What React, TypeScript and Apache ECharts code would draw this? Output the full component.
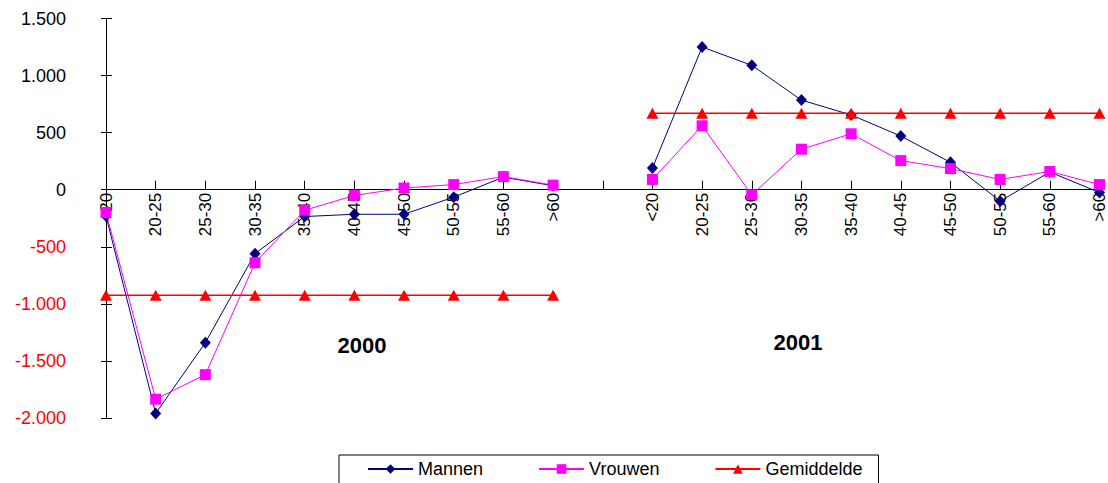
import React, { useEffect, useRef } from "react";
import * as echarts from "echarts";

const ageGroups = ["<20", "20-25", "25-30", "30-35", "35-40", "40-45", "45-50", "50-55", "55-60", ">60"];
const categories = [...ageGroups, "", ...ageGroups];

const mannen2000 = [-230, -1960, -1340, -560, -235, -215, -215, -65, 110, 35];
const vrouwen2000 = [-200, -1835, -1620, -640, -180, -50, 15, 45, 115, 40];
const gemiddelde2000 = [-925, -925, -925, -925, -925, -925, -925, -925, -925, -925];

const mannen2001 = [190, 1250, 1090, 785, 655, 470, 240, -100, 155, -25];
const vrouwen2001 = [90, 560, -45, 355, 490, 255, 185, 90, 160, 45];
const gemiddelde2001 = [670, 670, 670, 670, 670, 670, 670, 670, 670, 670];

const yearLabels = ["2000", "2001"];

const Y_MIN = -2000;
const Y_MAX = 1500;

const join = (a: number[], b: number[]) => [...a, null, ...b];

const fmt = (v: number) => {
  const s = Math.abs(v).toString().replace(/\B(?=(\d{3})+(?!\d))/g, ".");
  return v < 0 ? "-" + s : s;
};

const FONT = "Liberation Sans, Arial, sans-serif";

export default function App() {
  const ref = useRef<HTMLDivElement>(null);
  useEffect(() => {
    document.body.style.margin = "0";
    if (!ref.current) return;
    const chart = echarts.init(ref.current, null, { renderer: "svg" });
    const H = 483;
    const gridTop = 18.5;
    const gridBottom = 65;
    const plotH = H - gridTop - gridBottom;
    // move the category axis (line, ticks and labels) up to the value 0
    const zeroOffset = -plotH * (0 - Y_MIN) / (Y_MAX - Y_MIN);
    chart.setOption({
      animation: false,
      backgroundColor: "#ffffff",
      textStyle: { fontFamily: FONT },
      grid: { left: 106, right: 8, top: gridTop, bottom: gridBottom, containLabel: false },
      legend: {
        left: 339,
        top: 455,
        padding: [5, 16, 20, 28],
        borderColor: "#000",
        borderWidth: 1,
        itemWidth: 45,
        itemHeight: 12,
        itemGap: 55,
        textStyle: { fontSize: 18, color: "#000", fontFamily: FONT },
        data: ["Mannen", "Vrouwen", "Gemiddelde"],
      },
      xAxis: {
        type: "category",
        data: categories,
        boundaryGap: false,
        position: "bottom",
        offset: zeroOffset,
        axisLine: { onZero: false, lineStyle: { color: "#000", width: 1 } },
        axisTick: { inside: true, length: 9, interval: 0, lineStyle: { color: "#000" } },
        axisLabel: {
          interval: 0,
          rotate: 90,
          margin: 3,
          fontSize: 17,
          color: "#000",
          fontFamily: FONT,
        },
        splitLine: { show: false },
      },
      yAxis: [
        {
          type: "value",
          min: Y_MIN,
          max: Y_MAX,
          interval: 500,
          position: "left",
          axisLine: { show: true, onZero: false, lineStyle: { color: "#000", width: 1 } },
          axisTick: { show: true, length: 5, lineStyle: { color: "#000" } },
          axisLabel: {
            margin: 40,
            fontSize: 18,
            fontFamily: FONT,
            formatter: (v: number) => fmt(v),
            color: (v: any) => (Number(v) < 0 ? "#ff0000" : "#000000"),
          },
          splitLine: { show: false },
        },
        {
          type: "value",
          min: Y_MIN,
          max: Y_MAX,
          interval: 500,
          position: "left",
          offset: 0,
          axisLine: { show: false, onZero: false },
          axisTick: { show: true, inside: true, length: 6, lineStyle: { color: "#000" } },
          axisLabel: { show: false },
          splitLine: { show: false },
        },
      ],
      series: [
        {
          name: "Mannen",
          type: "line",
          data: join(mannen2000, mannen2001),
          symbol: "diamond",
          symbolSize: [11, 12],
          connectNulls: false,
          lineStyle: { color: "#000080", width: 1 },
          itemStyle: { color: "#000080" },
          z: 3,
        },
        {
          name: "Vrouwen",
          type: "line",
          data: join(vrouwen2000, vrouwen2001),
          symbol: "rect",
          symbolSize: 11,
          connectNulls: false,
          lineStyle: { color: "#ff00ff", width: 1 },
          itemStyle: { color: "#ff00ff" },
          z: 4,
        },
        {
          name: "Gemiddelde",
          type: "line",
          data: join(gemiddelde2000, gemiddelde2001),
          symbol: "triangle",
          symbolSize: [12, 11],
          connectNulls: false,
          lineStyle: { color: "#ff0000", width: 1.5 },
          itemStyle: { color: "#ff0000" },
          z: 5,
        },
      ],
      graphic: [
        {
          type: "text",
          x: 362,
          y: 345,
          style: {
            text: yearLabels[0],
            fontSize: 22,
            fontWeight: "bold",
            fontFamily: FONT,
            fill: "#000",
            align: "center",
            verticalAlign: "middle",
          },
        },
        {
          type: "text",
          x: 798,
          y: 342,
          style: {
            text: yearLabels[1],
            fontSize: 22,
            fontWeight: "bold",
            fontFamily: FONT,
            fill: "#000",
            align: "center",
            verticalAlign: "middle",
          },
        },
      ],
    });
    return () => chart.dispose();
  }, []);
  return <div ref={ref} style={{ width: 1108, height: 483 }} />;
}
